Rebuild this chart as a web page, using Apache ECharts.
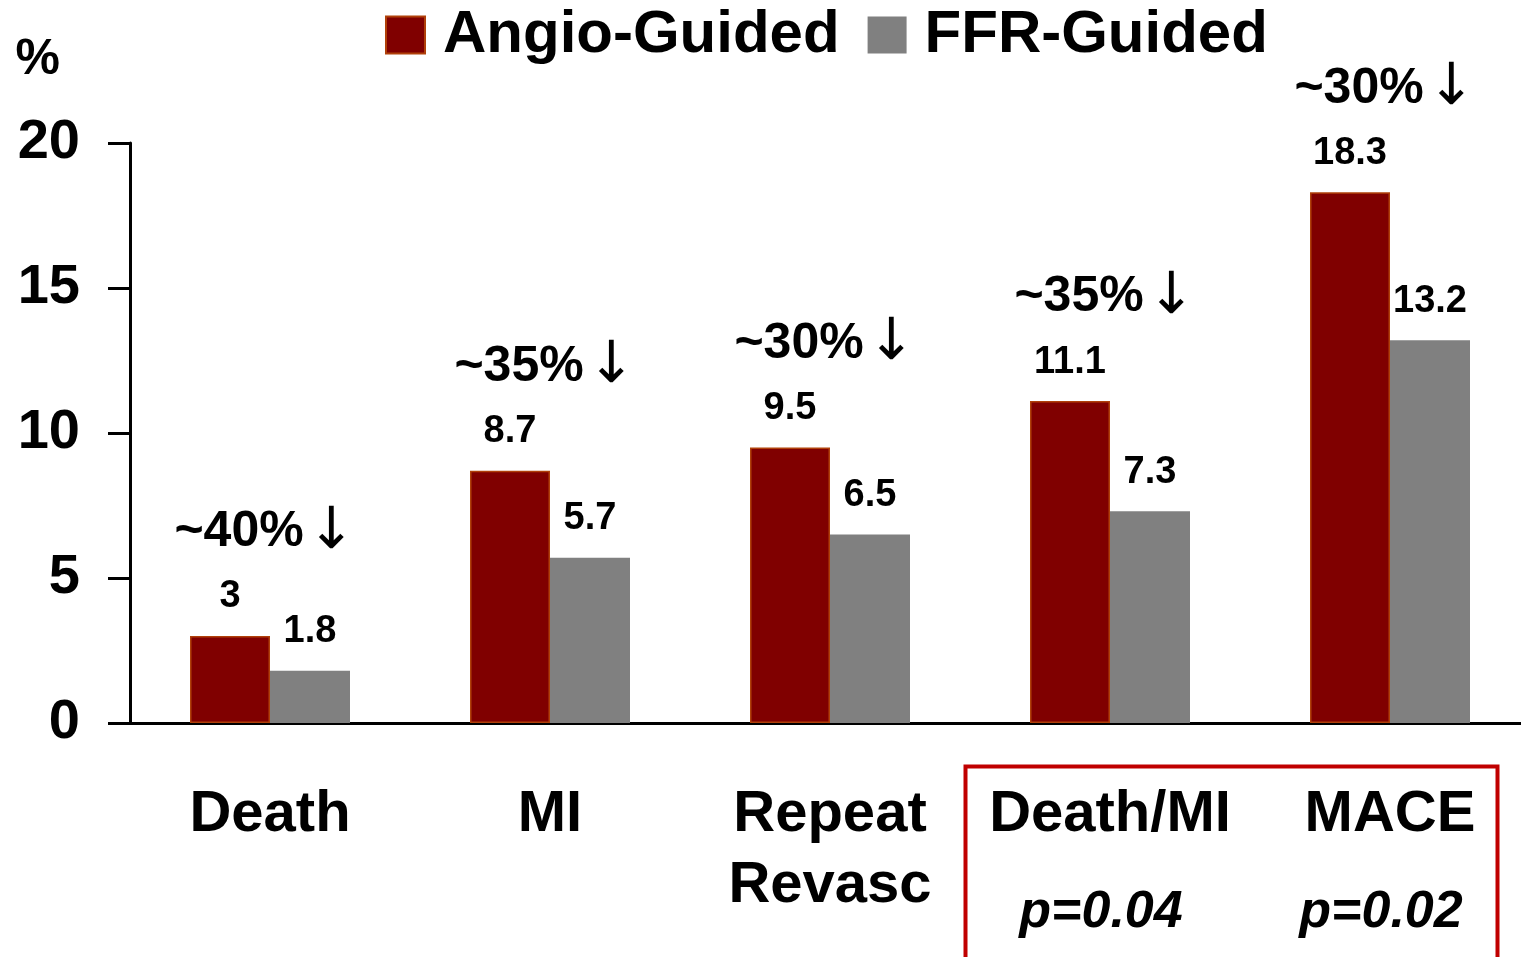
<!DOCTYPE html>
<html>
<head>
<meta charset="utf-8">
<script src="https://cdn.jsdelivr.net/npm/echarts@6/dist/echarts.min.js"></script>
<style>
  html, body { margin: 0; padding: 0; background: #fff; overflow: hidden; }
  /* the plot runs a few px past the right edge of the window in the original */
  #chart { width: 1530px; height: 957px; }
</style>
</head>
<body>
<div id="chart"></div>
<script>
// data
const categories = ['Death', 'MI', 'Repeat\nRevasc', 'Death/MI', 'MACE'];
const pValues = ['', '', '', 'p=0.04', 'p=0.02'];
const angioGuided = [3, 8.7, 9.5, 11.1, 18.3];
const ffrGuided = [1.8, 5.7, 6.5, 7.3, 13.2];
const reductions = ['~40%', '~35%', '~30%', '~35%', '~30%'];
const yTicks = [0, 5, 10, 15, 20];

const FONT = '"Liberation Sans", Arial, sans-serif';

const chart = echarts.init(document.getElementById('chart'));

chart.setOption({
  animation: false,
  textStyle: { fontFamily: FONT, color: '#000' },
  grid: {
    left: 130,
    right: 0,
    top: 143,
    bottom: 234,
    containLabel: false
  },
  legend: {
    data: ['Angio-Guided', 'FFR-Guided'],
    left: 380,
    top: 0,
    itemWidth: 39,
    itemHeight: 37,
    itemGap: 28,
    icon: 'rect',
    textStyle: {
      fontFamily: FONT,
      fontSize: 60,
      fontWeight: 'bold',
      color: '#000',
      padding: [0, 0, 0, 13]
    }
  },
  xAxis: {
    type: 'category',
    data: categories,
    axisLine: { lineStyle: { color: '#000', width: 3 } },
    axisTick: { length: 20, lineStyle: { color: '#000', width: 3 } },
    axisLabel: {
      margin: 56,
      interval: 0,
      formatter: (val, idx) => {
        const p = pValues[idx];
        return p ? '{a|' + val + '}\n{p|' + p + '}' : '{a|' + val.split('\n').join('}\n{a|') + '}';
      },
      rich: {
        a: {
          fontFamily: FONT,
          fontSize: 58,
          fontWeight: 'bold',
          color: '#000',
          lineHeight: 71
        },
        p: {
          fontFamily: FONT,
          fontSize: 52,
          fontWeight: 'bold',
          fontStyle: 'italic',
          color: '#000',
          lineHeight: 125,
          padding: [0, 18, 0, 0]
        }
      }
    }
  },
  yAxis: {
    type: 'value',
    min: 0,
    max: 20,
    interval: 5,
    name: '%',
    nameLocation: 'end',
    nameGap: 83,
    nameTextStyle: {
      fontFamily: FONT,
      fontSize: 50,
      fontWeight: 'bold',
      color: '#000',
      align: 'right',
      verticalAlign: 'middle',
      padding: [0, 70, 0, 0]
    },
    splitLine: { show: false },
    axisLine: { show: true, lineStyle: { color: '#000', width: 3 } },
    axisTick: { show: true, length: 22, lineStyle: { color: '#000', width: 3 } },
    axisLabel: {
      margin: 50,
      fontFamily: FONT,
      fontSize: 56,
      fontWeight: 'bold',
      color: '#000',
      formatter: v => (yTicks.indexOf(v) >= 0 ? String(v) : '')
    }
  },
  series: [
    {
      name: 'Angio-Guided',
      type: 'bar',
      data: angioGuided,
      barWidth: 80,
      barGap: '0%',
      itemStyle: { color: '#800000', borderColor: '#B0400A', borderWidth: 1.5 },
      label: {
        show: true,
        position: 'top',
        distance: 20,
        fontFamily: FONT,
        fontSize: 38,
        fontWeight: 'bold',
        color: '#000'
      }
    },
    {
      name: 'FFR-Guided',
      type: 'bar',
      data: ffrGuided,
      barWidth: 80,
      itemStyle: { color: '#808080' },
      label: {
        show: true,
        position: 'top',
        distance: 20,
        fontFamily: FONT,
        fontSize: 38,
        fontWeight: 'bold',
        color: '#000'
      }
    },
    {
      // reduction notes, pinned above the angio bar of each group
      name: 'reduction',
      type: 'scatter',
      data: angioGuided,
      symbolSize: 1,
      itemStyle: { color: 'rgba(0,0,0,0)', opacity: 1 },
      z: 5,
      label: {
        show: true,
        position: 'top',
        distance: 74,
        offset: [-5, 0],
        color: '#000',
        formatter: p => '{t|' + reductions[p.dataIndex] + '} {r|↓}',
        rich: {
          t: {
            fontFamily: FONT,
            fontSize: 50,
            fontWeight: 'bold',
            color: '#000'
          },
          r: {
            fontFamily: '"DejaVu Sans", sans-serif',
            fontSize: 58,
            color: '#000'
          }
        }
      }
    }
  ],
  graphic: [
    {
      type: 'rect',
      left: 963,
      top: 764,
      shape: { width: 532, height: 200 },
      style: { fill: 'none', stroke: '#C00000', lineWidth: 4 }
    }
  ]
});
</script>
</body>
</html>
